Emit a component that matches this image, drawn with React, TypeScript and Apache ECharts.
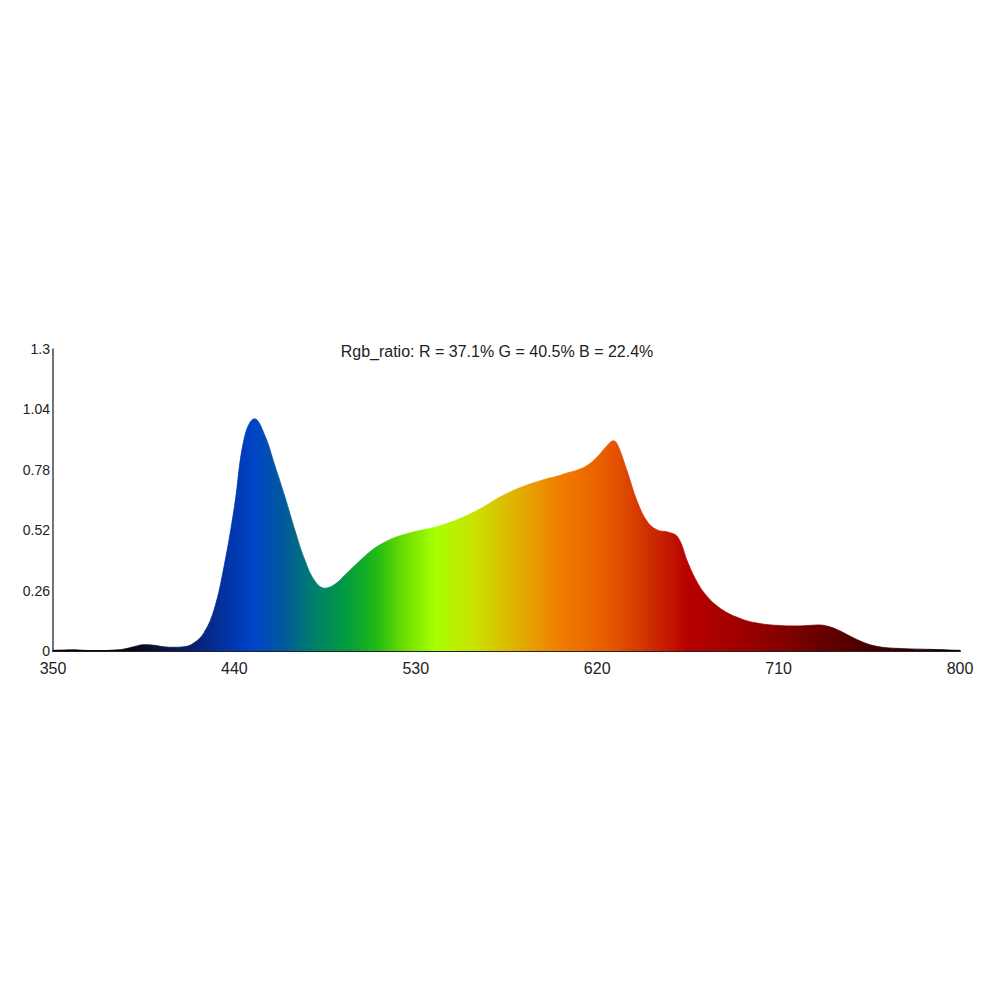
import React, { useEffect, useRef } from "react";
import * as echarts from "echarts";

const titleText = "Rgb_ratio: R = 37.1% G = 40.5% B = 22.4%";

const wavelengths = [
  350, 355, 360, 365, 370, 375, 380, 385, 390, 395, 400, 405, 410, 415, 420, 425, 430, 435, 440, 445,
  450, 455, 460, 465, 470, 475, 480, 485, 490, 495, 500, 505, 510, 515, 520, 525, 530, 535, 540, 545,
  550, 555, 560, 565, 570, 575, 580, 585, 590, 595, 600, 605, 610, 615, 620, 625, 628, 630, 635, 640,
  645, 650, 655, 660, 665, 670, 675, 680, 685, 690, 695, 700, 705, 710, 715, 720, 725, 730, 735, 740,
  745, 750, 755, 760, 765, 770, 775, 780, 785, 790, 795, 800,
];

const intensity = [
  0.003, 0.004, 0.005, 0.003, 0.002, 0.002, 0.004, 0.008, 0.018, 0.027, 0.025, 0.018, 0.016, 0.018, 0.035, 0.08, 0.18, 0.37, 0.62, 0.92,
  1.0, 0.93, 0.8, 0.665, 0.52, 0.39, 0.3, 0.27, 0.288, 0.328, 0.37, 0.41, 0.445, 0.47, 0.49, 0.503, 0.515, 0.524, 0.534, 0.548,
  0.563, 0.582, 0.603, 0.627, 0.654, 0.677, 0.697, 0.714, 0.728, 0.741, 0.752, 0.766, 0.778, 0.798, 0.835, 0.885, 0.905, 0.89, 0.77, 0.64,
  0.555, 0.52, 0.512, 0.49, 0.38, 0.29, 0.23, 0.19, 0.162, 0.143, 0.128, 0.119, 0.113, 0.11, 0.108, 0.108, 0.11, 0.112, 0.105, 0.088,
  0.066, 0.045, 0.028, 0.018, 0.013, 0.011, 0.009, 0.008, 0.007, 0.006, 0.004, 0.003,
];

const xMin = 350;
const xMax = 800;
const xStep = 90;
const yMin = 0;
const yMax = 1.3;
const yStep = 0.26;

// spectral colour stops (wavelength -> colour)
const stopWavelengths = [350, 390, 400, 420, 440, 450, 465, 480, 495, 510, 525, 540, 560, 580, 600, 625, 645, 665, 690, 715, 740, 770, 800];
const stopColors = [
  "#000000", "#05051a", "#0a0f35", "#0a2070", "#0038b0", "#0045c8", "#005a9a", "#00806a", "#009a40", "#20b818",
  "#70e000", "#a8ff00", "#cce000", "#e0b000", "#f08000", "#e85a00", "#d03000", "#b80000", "#a00000", "#800000",
  "#5a0000", "#300000", "#100000",
];

export default function App() {
  const ref = useRef<HTMLDivElement>(null);

  useEffect(() => {
    if (!ref.current) return;
    const chart = echarts.init(ref.current, null, { renderer: "svg" });
    const data = wavelengths.map((w, i) => [w, intensity[i]]);
    const gradient = new echarts.graphic.LinearGradient(
      0, 0, 1, 0,
      stopWavelengths.map((w, i) => ({ offset: (w - xMin) / (xMax - xMin), color: stopColors[i] }))
    );
    chart.setOption({
      animation: false,
      backgroundColor: "#ffffff",
      title: {
        text: titleText,
        left: 492,
        textAlign: "center",
        top: 338,
        textStyle: { fontFamily: "Liberation Sans, Arial, sans-serif", fontSize: 16, fontWeight: "normal", color: "#222222" },
      },
      grid: { left: 53, right: 40, top: 349, bottom: 349, containLabel: false },
      xAxis: {
        type: "value",
        min: xMin,
        max: xMax,
        interval: xStep,
        axisLine: { show: true, onZero: false, lineStyle: { color: "#222222", width: 2 } },
        axisTick: { show: false },
        splitLine: { show: false },
        axisLabel: {
          margin: 9,
          fontFamily: "Liberation Sans, Arial, sans-serif",
          fontSize: 16,
          color: "#222222",
        },
      },
      yAxis: {
        type: "value",
        min: yMin,
        max: yMax,
        interval: yStep,
        axisLine: { show: true, lineStyle: { color: "#444444", width: 1.5 } },
        axisTick: { show: false },
        splitLine: { show: false },
        axisLabel: {
          margin: 3,
          fontFamily: "Liberation Sans, Arial, sans-serif",
          fontSize: 14,
          color: "#222222",
          formatter: (v: number) => String(parseFloat(v.toFixed(2))),
        },
      },
      series: [
        {
          type: "line",
          data,
          smooth: 0.4,
          showSymbol: false,
          symbol: "none",
          lineStyle: { width: 0.8, color: gradient },
          areaStyle: { color: gradient, opacity: 1 },
          z: 1,
        },
      ],
    });
    return () => chart.dispose();
  }, []);

  return (
    <div
      ref={ref}
      style={{ position: "absolute", left: 0, top: 0, width: 1000, height: 1000, background: "#fff" }}
    />
  );
}
